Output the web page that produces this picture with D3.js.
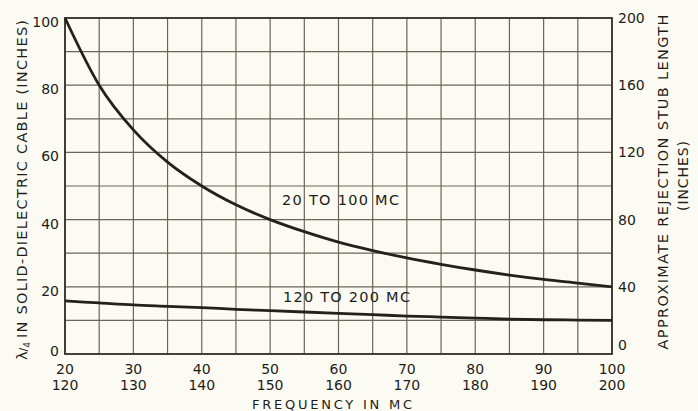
<!DOCTYPE html>
<html>
<head>
<meta charset="utf-8">
<script src="https://cdn.jsdelivr.net/npm/d3@7"></script>
<style>
  html, body { margin: 0; padding: 0; background: #fcfbf3; }
  svg { display: block; }
  text { font-family: "DejaVu Sans", "Liberation Sans", sans-serif; fill: #1e1c18; }
</style>
</head>
<body>
<svg id="chart" width="698" height="411"></svg>
<script>
// ---- data ----
const freqLow = [20, 25, 30, 35, 40, 45, 50, 55, 60, 65, 70, 75, 80, 85, 90, 95, 100];
const freqHigh = [120, 125, 130, 135, 140, 145, 150, 155, 160, 165, 170, 175, 180, 185, 190, 195, 200];
const cableLow = [100, 80, 66.7, 57.1, 50, 44.4, 40, 36.4, 33.3, 30.8, 28.6, 26.7, 25, 23.5, 22.2, 21.1, 20];
const cableHigh = [15.8, 15.2, 14.6, 14.2, 13.8, 13.3, 12.9, 12.5, 12.1, 11.7, 11.3, 11.0, 10.7, 10.4, 10.2, 10.1, 10.0];
const xTicksLow = [20, 30, 40, 50, 60, 70, 80, 90, 100];
const xTicksHigh = [120, 130, 140, 150, 160, 170, 180, 190, 200];
const yTicksLeft = [0, 20, 40, 60, 80, 100];
const yTicksRight = [0, 40, 80, 120, 160, 200];
const curveLabels = ["20 TO 100 MC", "120 TO 200 MC"];

// ---- layout ----
const pL = 65, pR = 612, pT = 18, pB = 354;
const svg = d3.select("#chart");

const x = d3.scaleLinear().domain([20, 100]).range([pL, pR]);
const x2 = d3.scaleLinear().domain([120, 200]).range([pL, pR]);
const y = d3.scaleLinear().domain([0, 100]).range([pB, pT]);
const y2 = d3.scaleLinear().domain([0, 200]).range([pB, pT]);

const gridColor = "#6e6259";
const g = svg.append("g");

// vertical grid every 5
g.selectAll("line.v").data(d3.range(20, 100.1, 5)).join("line")
  .attr("x1", d => x(d)).attr("x2", d => x(d))
  .attr("y1", pT).attr("y2", pB)
  .attr("stroke", gridColor).attr("stroke-width", 1.2);
// horizontal grid every 10
g.selectAll("line.h").data(d3.range(0, 100.1, 10)).join("line")
  .attr("x1", pL).attr("x2", pR)
  .attr("y1", d => y(d)).attr("y2", d => y(d))
  .attr("stroke", gridColor).attr("stroke-width", 1.2);
// border
g.append("rect").attr("x", pL).attr("y", pT)
  .attr("width", pR - pL).attr("height", pB - pT)
  .attr("fill", "none").attr("stroke", "#3a322c").attr("stroke-width", 1.8);

// curves
const line = d3.line().curve(d3.curveMonotoneX);
svg.append("path")
  .attr("d", line(freqLow.map((f, i) => [x(f), y(cableLow[i])])))
  .attr("fill", "none").attr("stroke", "#23211c").attr("stroke-width", 2.8);
svg.append("path")
  .attr("d", line(freqHigh.map((f, i) => [x2(f), y(cableHigh[i])])))
  .attr("fill", "none").attr("stroke", "#23211c").attr("stroke-width", 2.8);

// left tick labels
svg.selectAll("text.yl").data(yTicksLeft).join("text")
  .attr("x", 59).attr("y", d => Math.min(y(d) + 9, 356))
  .attr("text-anchor", "end").attr("font-size", 14).text(d => d);
// right tick labels
svg.selectAll("text.yr").data(yTicksRight).join("text")
  .attr("x", 618).attr("y", d => Math.max(19, Math.min(y2(d) + 5, 350)))
  .attr("text-anchor", "start").attr("font-size", 14).text(d => d);
// bottom labels
svg.selectAll("text.xl").data(xTicksLow).join("text")
  .attr("x", d => x(d)).attr("y", 374)
  .attr("text-anchor", "middle").attr("font-size", 14).text(d => d);
svg.selectAll("text.xh").data(xTicksHigh).join("text")
  .attr("x", d => x2(d)).attr("y", 390)
  .attr("text-anchor", "middle").attr("font-size", 14).text(d => d);

// axis titles
svg.append("text").attr("x", 332).attr("y", 409)
  .attr("text-anchor", "middle").attr("font-size", 13)
  .attr("textLength", 160).attr("lengthAdjust", "spacing")
  .text("FREQUENCY IN MC");

const lt = svg.append("text")
  .attr("transform", "translate(27,360) rotate(-90)")
  .attr("text-anchor", "start").attr("font-size", 14.5);
lt.append("tspan").text("λ");
lt.append("tspan").attr("font-size", 11).text("/");
lt.append("tspan").attr("font-size", 9).attr("dy", 3).text("4");
lt.append("tspan").attr("dy", -3).attr("dx", 4)
  .attr("textLength", 318).attr("lengthAdjust", "spacing")
  .text("IN SOLID-DIELECTRIC CABLE (INCHES)");

svg.append("text")
  .attr("transform", "translate(668,182) rotate(-90)")
  .attr("text-anchor", "middle").attr("font-size", 14.5)
  .attr("textLength", 335).attr("lengthAdjust", "spacing")
  .text("APPROXIMATE REJECTION STUB LENGTH");
svg.append("text")
  .attr("transform", "translate(688,176) rotate(-90)")
  .attr("text-anchor", "middle").attr("font-size", 14)
  .attr("textLength", 70).attr("lengthAdjust", "spacing")
  .text("(INCHES)");

// curve labels
svg.append("text").attr("x", 282).attr("y", 205)
  .attr("font-size", 14.5).attr("textLength", 117).attr("lengthAdjust", "spacing")
  .text(curveLabels[0]);
svg.append("text").attr("x", 283).attr("y", 302)
  .attr("font-size", 14.5).attr("textLength", 127).attr("lengthAdjust", "spacing")
  .text(curveLabels[1]);
</script>
</body>
</html>
